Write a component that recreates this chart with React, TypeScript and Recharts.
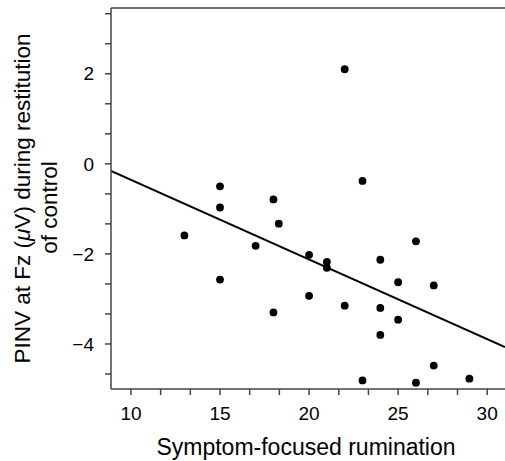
import { ComposedChart, Line, ReferenceLine, Scatter, XAxis, YAxis } from 'recharts';

// rumination score vs PINV amplitude
const rumination = [22, 23, 15, 15, 18, 18.3, 13, 17, 20, 21, 21, 24, 26, 25, 27, 15, 20, 18, 22, 24, 25, 24, 27, 23, 26, 29];
const pinv = [2.1, -0.38, -0.5, -0.97, -0.79, -1.33, -1.59, -1.82, -2.02, -2.18, -2.31, -2.13, -1.72, -2.63, -2.7, -2.57, -2.93, -3.3, -3.15, -3.2, -3.46, -3.8, -4.48, -4.81, -4.86, -4.77];

// fitted regression line, end points at the plot edges
const fitX = [8.88, 31];
const fitY = [-0.16, -4.07];

const xDomain: [number, number] = [8.88, 31];
const yDomain: [number, number] = [-5, 3.46];
const xTicks = [10, 11.667, 13.333, 15, 16.667, 18.333, 20, 21.667, 23.333, 25, 26.667, 28.333, 30];
const xLabeled = [10, 15, 20, 25, 30];
const yTicks = [-4.667, -4, -3.333, -2.667, -2, -1.333, -0.667, 0, 0.667, 1.333, 2, 2.667, 3.333];
const yLabeled = [-4, -2, 0, 2];

const FONT = '"Liberation Sans", Arial, Helvetica, sans-serif';
const AXIS = '#444';

const fmt = (v: number) => (v < 0 ? `\u2212${Math.abs(v)}` : String(v));

function YTitle(props: any) {
  const vb = props.viewBox ?? { x: 0, y: 8, width: 111, height: 381 };
  const cy = vb.y + vb.height / 2;
  return (
    <g fontFamily={FONT} fontSize={22.5} fill="#000">
      <text x={22} y={cy} textAnchor="middle" dominantBaseline="central" transform={`rotate(-90 22 ${cy})`}>
        PINV at Fz (<tspan fontStyle="italic">μ</tspan>V) during restitution
      </text>
      <text x={49} y={cy + 9} textAnchor="middle" dominantBaseline="central" transform={`rotate(-90 49 ${cy + 9})`}>
        of control
      </text>
    </g>
  );
}

function XTitle(props: any) {
  const vb = props.viewBox ?? { x: 111, y: 389, width: 394, height: 72 };
  return (
    <text x={vb.x + vb.width / 2 - 2} y={455} textAnchor="middle" fontFamily={FONT} fontSize={23} fill="#000">
      Symptom-focused rumination
    </text>
  );
}

export default function App() {
  const points = rumination.map((x, i) => ({ x, y: pinv[i] }));
  const fit = fitX.map((x, i) => ({ x, y: fitY[i] }));

  return (
    <div style={{ position: 'absolute', left: 0, top: 0, width: 505, height: 461, background: '#fff' }}>
      <ComposedChart width={505} height={461} margin={{ top: 8, right: 0, bottom: 0, left: 0 }}>
        <XAxis
          type="number"
          dataKey="x"
          domain={xDomain}
          ticks={xTicks}
          allowDataOverflow
          height={72}
          stroke={AXIS}
          strokeWidth={1.5}
          tickSize={6}
          tickMargin={12}
          tickFormatter={(v: number) => (xLabeled.includes(v) ? fmt(v) : '')}
          tick={{ fill: '#000', fontSize: 19, fontFamily: FONT }}
          label={{ content: XTitle }}
        />
        <YAxis
          type="number"
          dataKey="y"
          domain={yDomain}
          ticks={yTicks}
          allowDataOverflow
          width={111}
          stroke={AXIS}
          strokeWidth={1.5}
          tickSize={6}
          tickMargin={11}
          tickFormatter={(v: number) => (yLabeled.includes(v) ? fmt(v) : '')}
          tick={{ fill: '#000', fontSize: 19, fontFamily: FONT }}
          label={{ content: YTitle }}
        />
        <ReferenceLine y={yDomain[1]} stroke={AXIS} strokeWidth={1.5} />
        <Line
          data={fit}
          dataKey="y"
          stroke="#000"
          strokeWidth={2}
          dot={false}
          activeDot={false}
          isAnimationActive={false}
        />
        <Scatter
          data={points}
          dataKey="y"
          isAnimationActive={false}
          shape={(p: any) => <circle cx={p.cx} cy={p.cy} r={3.9} fill="#000" />}
        />
      </ComposedChart>
    </div>
  );
}
